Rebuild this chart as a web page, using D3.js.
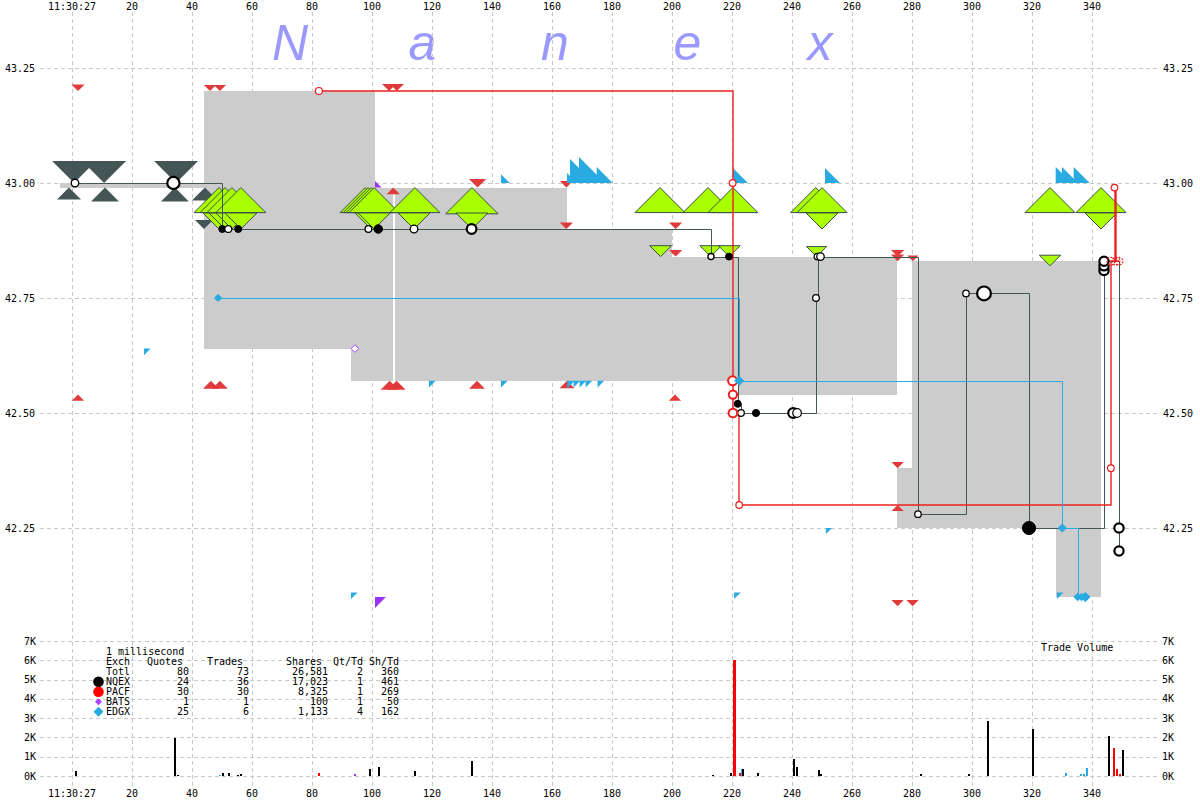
<!DOCTYPE html>
<html><head><meta charset="utf-8">
<script src="https://cdn.jsdelivr.net/npm/d3@7"></script>
<style>
body{margin:0;background:#fff}
svg{display:block}
text{font-family:"DejaVu Sans Mono",monospace;font-size:10px;fill:#000}
</style>
</head><body>
<svg id="c" width="1200" height="800"></svg>
<script>
// ---------------- DATA ----------------
const timeTicks = d3.range(0, 341, 20);                       // ms after 11:30:27
const timeTickLabels = timeTicks.map(t => t === 0 ? "11:30:27" : String(t));
const priceTicks = [42.25, 42.50, 42.75, 43.00, 43.25];
const volTicks = [0, 1000, 2000, 3000, 4000, 5000, 6000, 7000];
const volTickLabels = ["0K","1K","2K","3K","4K","5K","6K","7K"];
const watermark = ["N", "a", "n", "e", "x"];

// NBBO (spread) step series
const nbboTime = [-4, 44, 93, 101, 106.9, 107.8, 165, 200, 222, 275, 280, 328, 343];
const nbboBid  = [42.99, 42.64, 42.57, 42.57, 42.99, 42.57, 42.57, 42.57, 42.54, 42.25, 42.25, 42.10];
const nbboAsk  = [43.00, 43.20, 43.20, 42.99, 42.99, 42.99, 42.90, 42.84, 42.84, 42.38, 42.83, 42.83];

// Quotes: exchange, side, time(ms), price, shares
const qExch  = ["Q","Q","Q","Q","Q","Q","Q","Q",
  "X","X","X","X","X","X","X","X","X","X","X","X","X","X","X","X","X","X","X","X","X","X","X","X","X","X","X","X","X","X","X","X",
  "P","P","P","P","P","P","P","P","P","P","P","P","P","P","P","P","P","P","P","P","P","P","P","P","P","P",
  "Z","Z",
  "K","K","K","K","K","K","K","K","K","K","K","K","K","K","K","K","K","K","K","K","K","K"];
const qSide  = ["A","A","A","B","B","B","B","A",
  "B","A","B","A","B","A","B","A","B","B","B","A","B","A","B","A","B","A","B","A","B","A","B","A","B","A","B","A","B","A","B","A",
  "A","B","A","A","B","B","A","A","B","B","B","A","B","A","A","B","A","A","B","A","A","A","A","B","A","A",
  "A","B",
  "A","A","A","A","A","A","A","A","A","A","B","B","B","B","B","B","B","B","B","B","B","B"];
const qTime  = [0.7,10.7,34.7,-1,11,34.3,44.3,44,
  49,49,51,51,53.3,53.3,56.3,56.3,97.7,98.7,99.7,99.7,100.7,100.7,114.3,114,133.3,133.3,196,196.2,212,212.9,220.3,219.1,247.9,248.2,250,250,326,326,343,343,
  2,2,46,49.3,46.3,49.3,105.7,108.3,105.9,108.2,107.1,135.2,135,164.8,164.8,165,201.2,201.2,201,275.2,275.2,280.3,275.2,275.2,275.2,280.2,
  101,101,
  143,165,166,169,174.9,220.3,251,327.9,330,333.9,24,119,143,165.1,167.2,169.2,171.2,175.2,93,220.7,251.3,328.3];
const qPrice = [43.00,43.00,43.00,42.99,42.99,42.99,42.99,42.90,
  42.99,42.90,42.99,42.90,42.99,42.90,42.99,42.90,42.99,42.99,42.99,42.90,42.99,42.90,42.99,42.90,42.99,42.90,42.99,42.84,42.99,42.84,42.99,42.84,42.99,42.84,42.99,42.90,42.99,42.82,42.99,42.90,
  43.20,42.54,43.20,43.20,42.57,42.57,43.20,43.20,42.57,42.57,42.99,42.99,42.57,42.99,42.90,42.57,42.90,42.84,42.54,42.84,42.83,42.83,42.38,42.30,42.08,42.08,
  42.99,42.10,
  43.00,43.00,43.00,43.00,43.00,43.00,43.00,43.00,43.00,43.00,42.64,42.57,42.57,42.57,42.57,42.57,42.57,42.57,42.11,42.11,42.25,42.11];
const qShares = [7700,7700,7700,2300,3100,3100,2700,1300,
  10000,4100,10000,4100,10000,4100,10000,4100,10000,10000,10000,4100,10000,4100,10000,4100,11000,4100,10000,1900,10000,1900,10000,1900,10000,1600,10000,4100,10000,1800,10000,4100,
  700,600,600,600,1000,1000,800,800,1300,1300,700,1200,1000,700,700,900,700,700,600,700,700,500,600,600,600,600,
  700,1900,
  1200,1600,9200,10800,4100,3600,3600,4100,4100,4100,700,700,700,900,700,700,700,700,700,700,600,700];

// Trades: exchange, time(ms), price, shares, condition
const tExch  = ["Q","Q","Q","Q","Q","Q","Q","Q","Q","Q","Q","Q","Q","Q","Q","Q","Q","Q","Q","Q","Q","Q","Q","Q","Q","Q","Q","Q",
  "P","P","P","P","P","P","P","P","P","P","P",
  "K","K","K","K","K","K",
  "Z"];
const tTime  = [1,33.8,50.1,52.1,55.4,98.8,102.1,114,133.2,213,219,221.9,223,228,240.4,241.7,248,248.5,249.5,282,298,304,319,344,344,344,349,349,
  82.3,220.2,220.2,220.3,220.3,222.4,346.3,346.3,347.5,348,349,
  48.7,222.4,330.1,335.2,336.5,337.8,
  94.3];
const tPrice = [43.00,43.00,42.90,42.90,42.90,42.90,42.90,42.90,42.90,42.84,42.84,42.52,42.50,42.50,42.50,42.50,42.75,42.84,42.84,42.28,42.76,42.76,42.25,42.81,42.82,42.83,42.25,42.20,
  43.20,43.00,42.57,42.54,42.50,42.30,42.38,42.83,42.99,42.83,42.83,
  42.75,42.57,42.25,42.10,42.10,42.10,
  42.64];
const tShares = [240,1950,140,140,150,100,470,250,800,50,140,150,100,170,880,480,100,100,230,80,80,2850,2430,700,700,670,700,650,
  150,100,600,400,500,100,100,300,100,300,300,
  50,350,170,90,90,420,
  100];
const tCond  = ["O","O","F","O","F","O","F","O","O","O","F","F","O","F","O","O","O","O","O","O","O","O","F","O","O","O","O","O",
  "O","O","O","O","O","O","O","D","O","D","D",
  "F","F","F","F","F","F",
  "O"];

// Trade volume per millisecond
const vTime   = [1.3,34.2,35.3,49.3,50.2,52.2,55.2,56.2,82.3,94.2,99.3,102.3,114.2,133.3,213.7,219.7,220.7,222.5,223.2,223.5,228.8,240.7,241.8,249,249.8,283,299,305.2,320.3,331.3,336.3,337.2,338.3,345.6,347.3,348.3,349.3,350.3];
const vShares = [240,1950,50,50,140,140,50,100,150,100,350,470,250,800,50,140,6000,150,350,380,170,880,480,330,90,80,80,2850,2430,170,90,90,420,2070,1450,340,100,1350];
const vExch   = ["Q","Q","Q","K","Q","Q","Q","Q","P","Z","Q","Q","Q","Q","Q","Q","P","P","K","Q","Q","Q","Q","Q","Q","Q","Q","Q","Q","K","K","K","K","Q","P","P","P","Q"];

// Legend table
const legendExch   = ["Totl","NQEX","PACF","BATS","EDGX"];
const legendQuotes = [80,24,30,1,25];
const legendTrades = [73,36,30,1,6];
const legendShares = [26581,17023,8325,100,1133];
const legendQtTd   = [2,1,1,1,4];
const legendShTd   = [360,461,269,50,162];

// ---------------- DRAW ----------------
const svg = d3.select("#c");
const x  = d3.scaleLinear().domain([0, 340]).range([72, 1092]);
const y  = d3.scaleLinear().domain([42.25, 43.25]).range([528, 68]);
const yv = d3.scaleLinear().domain([0, 7000]).range([776, 641]);
const qSize = d3.scaleSqrt().domain([0, 10000]).range([0, 25]);
const rSize = d3.scaleSqrt().domain([0, 3000]).range([2.5, 7]);

const quoteColor = {Q:"#455555", X:"#aaff00", P:"#e03a3a", Z:"#9933ee", K:"#29abe2"};
const lineColor  = {Q:"#455555", P:"#ee2020", K:"#29abe2"};
const lineWidth  = {Q:1, P:1.4, K:1};
const lineOffset = {Q:0.5, P:0, K:0.5};
const barColor   = {Q:"#000000", P:"#ff0000", K:"#29abe2", Z:"#9933ee"};
const gridColor = "#c8c8c8";

// watermark
const wmX = d3.scalePoint().domain(d3.range(watermark.length)).range([290, 820]);
svg.append("g").selectAll("text").data(watermark).join("text")
  .attr("x", (d,i) => wmX(i)).attr("y", 60)
  .attr("text-anchor", "middle")
  .style("font-family", "'Liberation Sans', Arial, sans-serif")
  .style("font-style", "italic").style("font-size", "50px")
  .style("fill", "#9999ff").text(d => d);

// grid
const grid = svg.append("g").attr("stroke", gridColor).attr("stroke-dasharray", "4,3")
  .attr("shape-rendering", "crispEdges");
grid.selectAll(".v").data(timeTicks).join("line")
  .attr("x1", d => x(d) + 0.5).attr("x2", d => x(d) + 0.5).attr("y1", 12).attr("y2", 787);
grid.selectAll(".h").data(priceTicks).join("line")
  .attr("x1", 40).attr("x2", 1157).attr("y1", d => y(d) + 0.5).attr("y2", d => y(d) + 0.5);
grid.selectAll(".hv").data(volTicks).join("line")
  .attr("x1", 40).attr("x2", 1157).attr("y1", d => Math.round(yv(d)) + 0.5).attr("y2", d => Math.round(yv(d)) + 0.5);

// NBBO spread
const nbbo = nbboBid.map((b, i) => ({t0: nbboTime[i], t1: nbboTime[i+1], bid: b, ask: nbboAsk[i]}));
svg.append("g").attr("shape-rendering", "crispEdges").selectAll("rect").data(nbbo).join("rect")
  .attr("x", d => Math.round(x(d.t0))).attr("width", d => Math.round(x(d.t1)) - Math.round(x(d.t0)))
  .attr("y", d => Math.round(y(d.ask))).attr("height", d => Math.max(0, Math.round(y(d.bid)) - Math.round(y(d.ask))))
  .attr("fill", "#cccccc");

// quotes
const quotes = qExch.map((e, i) => ({e, side: qSide[i], t: qTime[i], p: qPrice[i], s: qShares[i]}));
function quotePath(d) {
  const cx = x(d.t), cy = y(d.p), s = qSize(d.s);
  if (d.e === "K" || d.e === "Z") {
    return d.side === "A"
      ? `M${cx},${cy-s}L${cx},${cy}L${cx+s},${cy}Z`
      : `M${cx},${cy}L${cx+s},${cy}L${cx},${cy+s}Z`;
  }
  return d.side === "A"
    ? `M${cx-s},${cy-s}L${cx+s},${cy-s}L${cx},${cy}Z`
    : `M${cx-s},${cy+s}L${cx+s},${cy+s}L${cx},${cy}Z`;
}
const layerOrder = ["Q","X","P","Z","K"];
layerOrder.forEach(ex => {
  svg.append("g").selectAll("path").data(quotes.filter(d => d.e === ex)).join("path")
    .attr("d", quotePath)
    .attr("fill", quoteColor[ex])
    .attr("stroke", ex === "X" ? "#3d4d4d" : "none")
    .attr("stroke-width", 1);
});

// trade lines (step lines)
const trades = tExch.map((e, i) => ({e, t: tTime[i], p: tPrice[i], s: tShares[i], c: tCond[i]}));
["Q","P","K"].forEach(ex => {
  const o = lineOffset[ex];
  const line = d3.line().x(d => Math.round(x(d.t)) + o).y(d => Math.round(y(d.p)) + o).curve(d3.curveStepAfter);
  svg.append("path").datum(trades.filter(d => d.e === ex))
    .attr("d", line).attr("fill", "none")
    .attr("stroke", lineColor[ex]).attr("stroke-width", lineWidth[ex]);
});

// trade markers
const tg = svg.append("g");
trades.forEach(d => {
  const cx = x(d.t), cy = y(d.p), r = rSize(d.s);
  if (d.e === "Q") {
    tg.append("circle").attr("cx", cx).attr("cy", cy).attr("r", r)
      .attr("fill", d.c === "F" ? "#000" : "#fff").attr("stroke", "#000")
      .attr("stroke-width", d.c === "F" ? 1 : (r > 4.5 ? 2.2 : 1.3));
  } else if (d.e === "P") {
    tg.append("circle").attr("cx", cx).attr("cy", cy).attr("r", r)
      .attr("fill", d.c === "D" ? "none" : "#fff").attr("stroke", "#ee1c1c")
      .attr("stroke-width", r > 4 ? 2 : 1.2)
      .attr("stroke-dasharray", d.c === "D" ? "2,1.5" : null);
  } else {
    const h = r + 0.5;
    tg.append("path").attr("d", `M${cx},${cy-h}L${cx+h},${cy}L${cx},${cy+h}L${cx-h},${cy}Z`)
      .attr("fill", d.e === "K" ? "#29abe2" : "#fff")
      .attr("stroke", d.e === "K" ? "#29abe2" : "#aa44ff").attr("stroke-width", 1);
  }
});

// volume bars
const vols = vTime.map((t, i) => ({t, v: vShares[i], e: vExch[i]}));
svg.append("g").attr("shape-rendering", "crispEdges").selectAll("rect").data(vols).join("rect")
  .attr("x", d => Math.round(x(d.t)) - 1).attr("width", d => d.v > 3000 ? 3 : 2)
  .attr("y", d => yv(d.v)).attr("height", d => yv(0) - yv(d.v))
  .attr("fill", d => barColor[d.e]);

// axes labels
const ax = svg.append("g");
ax.selectAll(".tt").data(timeTicks).join("text").attr("x", d => x(d)).attr("y", 10)
  .attr("text-anchor", "middle").text((d,i) => timeTickLabels[i]);
ax.selectAll(".tb").data(timeTicks).join("text").attr("x", d => x(d)).attr("y", 797)
  .attr("text-anchor", "middle").text((d,i) => timeTickLabels[i]);
ax.selectAll(".pl").data(priceTicks).join("text").attr("x", 35).attr("y", d => y(d) + 3.5)
  .attr("text-anchor", "end").text(d => d.toFixed(2));
ax.selectAll(".pr").data(priceTicks).join("text").attr("x", 1163).attr("y", d => y(d) + 3.5)
  .text(d => d.toFixed(2));
ax.selectAll(".vl").data(volTicks).join("text").attr("x", 36).attr("y", d => yv(d) + 3.5)
  .attr("text-anchor", "end").text((d,i) => volTickLabels[i]);
ax.selectAll(".vr").data(volTicks).join("text").attr("x", 1162).attr("y", d => yv(d) + 3.5)
  .text((d,i) => volTickLabels[i]);
ax.append("text").attr("x", 1041).attr("y", 651).text("Trade Volume");

// legend table
const lg = svg.append("g");
lg.append("text").attr("x", 106).attr("y", 655).text("1 millisecond");
const hdrY = 665;
[["Exch",106,"start"],["Quotes",183,"end"],["Trades",243,"end"],["Shares",322,"end"],["Qt/Td",363,"end"],["Sh/Td",399,"end"]]
  .forEach(([t, xx, a]) => lg.append("text").attr("x", xx).attr("y", hdrY).attr("text-anchor", a).text(t));
const fmt = d3.format(",");
legendExch.forEach((ex, i) => {
  const yy = 675 + i * 10;
  lg.append("text").attr("x", 106).attr("y", yy).text(ex);
  lg.append("text").attr("x", 189).attr("y", yy).attr("text-anchor", "end").text(legendQuotes[i]);
  lg.append("text").attr("x", 249).attr("y", yy).attr("text-anchor", "end").text(legendTrades[i]);
  lg.append("text").attr("x", 328).attr("y", yy).attr("text-anchor", "end").text(fmt(legendShares[i]));
  lg.append("text").attr("x", 363).attr("y", yy).attr("text-anchor", "end").text(legendQtTd[i]);
  lg.append("text").attr("x", 399).attr("y", yy).attr("text-anchor", "end").text(legendShTd[i]);
});
const symY = i => 671.7 + i * 10;
lg.append("circle").attr("cx", 98.5).attr("cy", symY(1)).attr("r", 5.3).attr("fill", "#000");
lg.append("circle").attr("cx", 98.5).attr("cy", symY(2)).attr("r", 5.3).attr("fill", "#ff0000");
lg.append("path").attr("d", `M98.5,${symY(3)-3.5}L102,${symY(3)}L98.5,${symY(3)+3.5}L95,${symY(3)}Z`).attr("fill", "#aa44ff");
lg.append("path").attr("d", `M98.5,${symY(4)-5}L103.5,${symY(4)}L98.5,${symY(4)+5}L93.5,${symY(4)}Z`).attr("fill", "#29abe2");
</script>
</body></html>
